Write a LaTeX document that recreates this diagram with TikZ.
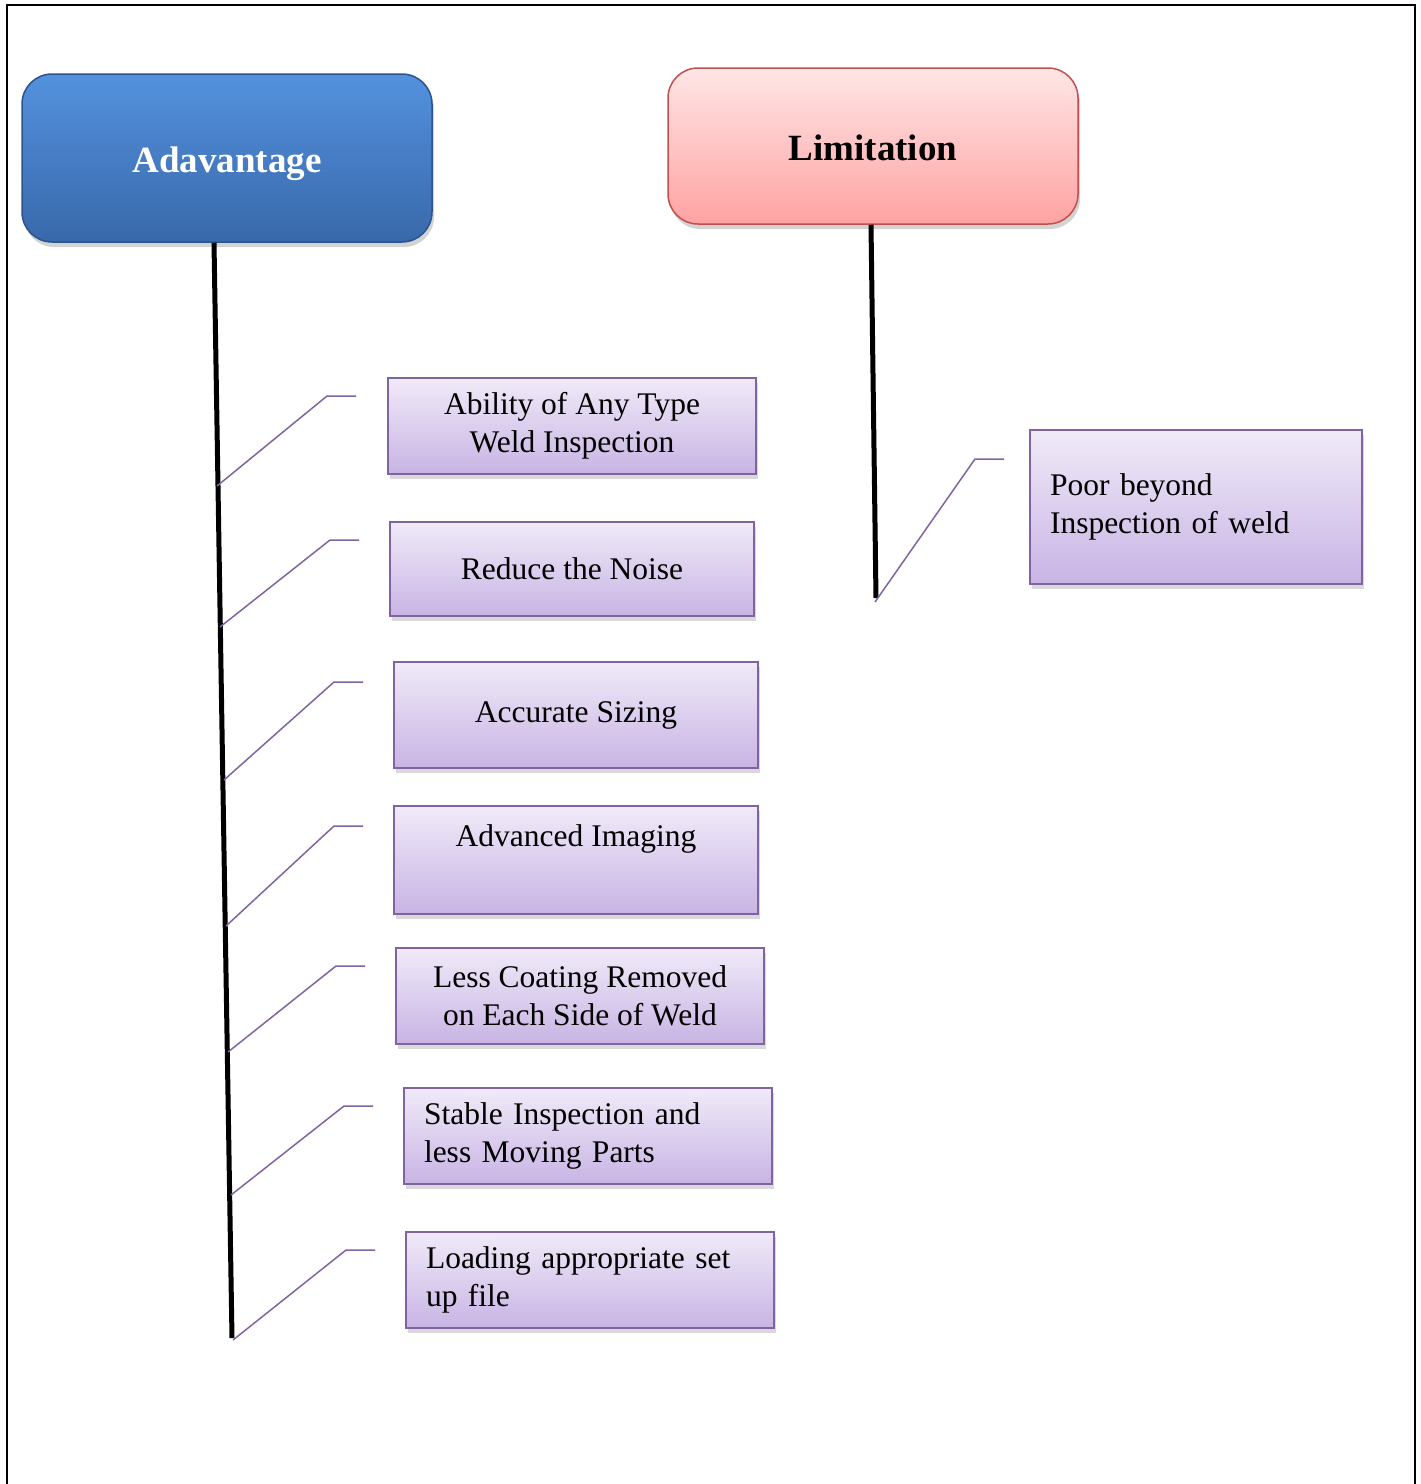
\documentclass[tikz,border=0pt]{standalone}
\usepackage{fontspec}
\setmainfont{Liberation Serif}
\usepackage{xcolor}
\usepackage{tikz}
\usetikzlibrary{positioning,shadows,calc}

\definecolor{advtop}{RGB}{84,146,222}
\definecolor{advbot}{RGB}{56,104,170}
\definecolor{advline}{RGB}{44,84,140}
\definecolor{limtop}{RGB}{255,230,230}
\definecolor{limbot}{RGB}{255,162,162}
\definecolor{limline}{RGB}{192,80,77}
\definecolor{itemtop}{RGB}{240,234,248}
\definecolor{itembot}{RGB}{200,180,228}
\definecolor{itemline}{RGB}{128,100,162}

\begin{document}
\begin{tikzpicture}[
    x=1pt, y=-1pt,
    head/.style={draw, rounded corners=30pt, line width=1.5pt, font=\fontsize{37}{44}\selectfont\bfseries,
        minimum width=410pt, drop shadow={shadow xshift=2pt, shadow yshift=-5pt, opacity=0.35}},
    itembox/.style={draw=itemline, line width=1.5pt, top color=itemtop, bottom color=itembot,
        font=\fontsize{31.5}{38}\selectfont, align=center, inner sep=0pt,
        drop shadow={shadow xshift=2pt, shadow yshift=-5pt, opacity=0.3}},
    leftbox/.style={itembox, align=left, inner xsep=20pt},
    trunk/.style={line width=5pt, black},
    branch/.style={line width=1.5pt, itemline}
]
\useasboundingbox (0,0) rectangle (1421,1484);

% Frame
\draw[line width=2.5pt] (7,1484) |- (1415,5) -- (1415,1484);

% Headers
\node[head, draw=advline, top color=advtop, bottom color=advbot, text=white, minimum height=168pt,
    text height=37pt, text depth=8pt] (adv) at (227,158) {Adavantage};
\node[head, draw=limline, top color=limtop, bottom color=limbot, minimum height=156pt,
    text height=29pt, text depth=0pt] (lim) at (873,146) {Limitation};

% Advantage items
\node[itembox, minimum width=368pt, minimum height=96pt] (a1) at (572,426) {Ability of Any Type\\Weld Inspection};
\node[itembox, minimum width=364pt, minimum height=94pt] (a2) at (572,569) {Reduce the Noise};
\node[itembox, minimum width=364pt, minimum height=106pt] (a3) at (576,715) {Accurate Sizing};
\node[itembox, minimum width=364pt, minimum height=108pt] (a4) at (576,860) {Advanced Imaging\\\strut};
\node[itembox, minimum width=368pt, minimum height=96pt] (a5) at (580,996) {Less Coating Removed\\on Each Side of Weld};
\node[leftbox, text width=328pt, minimum height=96pt] (a6) at (588,1136) {Stable Inspection and\\less Moving Parts};
\node[leftbox, text width=328pt, minimum height=96pt] (a7) at (590,1280) {Loading appropriate set\\up file};

% Limitation item
\node[leftbox, text width=292pt, minimum height=154pt] (l1) at (1196,507) {Poor beyond\\Inspection of weld};

% Trunks
\coordinate (advend) at (232,1338);
\coordinate (limend) at (876,598);
\draw[trunk] ([xshift=-13pt]adv.south) -- (advend);
\draw[trunk] ([xshift=-2pt]lim.south) -- (limend);

% Branches
\foreach \n/\tx/\ty/\ex/\ey in {1/217/486/327/396, 2/220/627/330/540, 3/224/780/334/682,
    4/226/926/334/826, 5/228/1052/336/966, 6/231/1195/344/1106, 7/233/1340/346/1250,
    8/875/602/975/459}{
  \coordinate (t\n) at (\tx,\ty);
  \coordinate (e\n) at (\ex,\ey);
  \draw[branch] (t\n) -- (e\n) -- ++(29,0);
}

\end{tikzpicture}
\end{document}
